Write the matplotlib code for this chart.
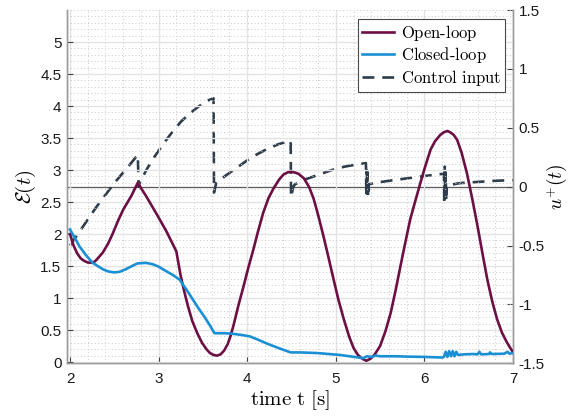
import numpy as np
import matplotlib
matplotlib.use("Agg")
import matplotlib.pyplot as plt
from matplotlib.ticker import MultipleLocator

plt.rcParams['font.family'] = ['Liberation Sans', 'DejaVu Sans']
plt.rcParams['mathtext.fontset'] = 'cm'
plt.rcParams['axes.unicode_minus'] = False

# ---------------- data ----------------
open_t = [2.00, 2.04, 2.08, 2.12, 2.16, 2.20, 2.24, 2.28, 2.32, 2.37, 2.43, 2.48, 2.54,
          2.60, 2.69, 2.765, 2.80, 2.86, 2.97, 3.085, 3.20, 3.25, 3.29, 3.33, 3.38,
          3.44, 3.49, 3.54, 3.58, 3.62, 3.66, 3.70, 3.74, 3.78, 3.81, 3.845, 3.90,
          3.96, 4.01, 4.07, 4.12, 4.18, 4.24, 4.30, 4.36, 4.41, 4.46, 4.50, 4.54,
          4.58, 4.64, 4.70, 4.75, 4.80, 4.86, 4.92, 4.975, 5.03, 5.09, 5.15, 5.20,
          5.25, 5.30, 5.345, 5.39, 5.44, 5.50, 5.56, 5.62, 5.675, 5.73, 5.785, 5.84,
          5.90, 5.955, 6.01, 6.07, 6.12, 6.18, 6.22, 6.26, 6.29, 6.33, 6.37, 6.42,
          6.48, 6.54, 6.60, 6.655, 6.71, 6.765, 6.82, 6.875, 6.93, 7.00]
open_E = [2.00, 1.82, 1.70, 1.62, 1.58, 1.555, 1.55, 1.57, 1.63, 1.71, 1.85, 2.00, 2.20,
          2.38, 2.59, 2.80, 2.72, 2.59, 2.33, 2.05, 1.73, 1.34, 1.10, 0.88, 0.64,
          0.44, 0.30, 0.20, 0.14, 0.11, 0.10, 0.12, 0.18, 0.28, 0.40, 0.57, 0.88,
          1.19, 1.46, 1.76, 2.03, 2.33, 2.56, 2.72, 2.85, 2.93, 2.965, 2.97, 2.96,
          2.94, 2.87, 2.73, 2.55, 2.30, 1.97, 1.62, 1.29, 0.97, 0.67, 0.40, 0.22,
          0.11, 0.05, 0.02, 0.05, 0.12, 0.25, 0.48, 0.77, 1.12, 1.50, 1.87, 2.23,
          2.53, 2.80, 3.06, 3.32, 3.45, 3.55, 3.59, 3.61, 3.59, 3.55, 3.47, 3.27,
          2.95, 2.55, 2.12, 1.70, 1.29, 0.95, 0.67, 0.46, 0.31, 0.15]

closed_t = [2.00, 2.05, 2.105, 2.18, 2.255, 2.37, 2.43, 2.50, 2.56, 2.63, 2.70, 2.76,
            2.85, 2.93, 3.00, 3.085, 3.16, 3.235, 3.31, 3.385, 3.45, 3.52, 3.58, 3.63,
            3.75, 3.845, 3.95, 4.03, 4.12, 4.22, 4.35, 4.49, 4.60, 4.79, 5.05, 5.31,
            5.35, 5.40, 5.45, 5.50, 5.67, 5.80, 6.00, 6.20, 6.22, 6.24, 6.26, 6.28,
            6.30, 6.32, 6.34, 6.36, 6.38, 6.45, 6.55, 6.60, 6.62, 6.64, 6.73, 6.74,
            6.76, 6.90, 6.94, 6.96, 7.00]
closed_E = [2.07, 1.95, 1.81, 1.67, 1.55, 1.45, 1.415, 1.40, 1.41, 1.45, 1.50, 1.54,
            1.55, 1.53, 1.49, 1.42, 1.36, 1.29, 1.14, 0.98, 0.84, 0.70, 0.57, 0.45,
            0.45, 0.44, 0.42, 0.40, 0.35, 0.29, 0.22, 0.15, 0.15, 0.14, 0.11, 0.06,
            0.09, 0.08, 0.10, 0.09, 0.09, 0.085, 0.08, 0.07, 0.08, 0.16, 0.08, 0.17,
            0.09, 0.17, 0.09, 0.16, 0.11, 0.12, 0.125, 0.12, 0.16, 0.12, 0.125, 0.15,
            0.125, 0.13, 0.16, 0.13, 0.14]

ctrl_t = [2.00, 2.10, 2.20, 2.30, 2.40, 2.50, 2.60, 2.70, 2.765, 2.775, 2.78, 2.86,
          2.95, 3.05, 3.15, 3.25, 3.35, 3.45, 3.55, 3.62, 3.625, 3.65, 3.75, 3.90,
          4.05, 4.20, 4.35, 4.49, 4.495, 4.52, 4.54, 4.65, 4.80, 4.95, 5.10, 5.25,
          5.34, 5.345, 5.35, 5.355, 5.36, 5.365, 5.37, 5.43, 5.60, 5.80, 6.00, 6.22,
          6.225, 6.23, 6.235, 6.24, 6.245, 6.25, 6.40, 6.60, 6.80, 7.00]
ctrl_u = [-0.50, -0.39, -0.28, -0.17, -0.07, 0.03, 0.12, 0.21, 0.27, 0.00, 0.02, 0.14,
          0.25, 0.36, 0.46, 0.55, 0.62, 0.68, 0.73, 0.75, -0.05, 0.03, 0.09, 0.17,
          0.25, 0.31, 0.36, 0.39, -0.09, 0.00, 0.02, 0.06, 0.10, 0.14, 0.17, 0.19,
          0.20, -0.08, 0.14, -0.06, 0.12, -0.09, 0.02, 0.03, 0.05, 0.07, 0.09, 0.11,
          -0.14, 0.17, -0.10, 0.12, -0.12, 0.01, 0.03, 0.04, 0.05, 0.055]

labels = ["Open-loop", "Closed-loop", "Control input"]
left_ticks = [0, 0.5, 1, 1.5, 2, 2.5, 3, 3.5, 4, 4.5, 5]
right_ticks = [-1.5, -1, -0.5, 0, 0.5, 1, 1.5]
x_ticks = [2, 3, 4, 5, 6, 7]

# ---------------- styling ----------------
c_open = '#6c0f45'
c_closed = '#1b8fd3'
c_ctrl = '#2d3d4b'
spine_c = '#9a9a9a'

fig = plt.figure(figsize=(5.69, 4.17), dpi=100)
ax = fig.add_axes([67/569, 1 - 363.3/417, (513-67)/569, (363.3-10)/417])
ax2 = ax.twinx()

ax.set_xlim(1.966, 7)
ax.set_ylim(-0.02, 5.5)
ax2.set_ylim(-1.5, 1.5)

ax.set_xticks(x_ticks)
ax.set_yticks(left_ticks)
ax.set_yticklabels([f"{v:g}" for v in left_ticks])
ax2.set_yticks(right_ticks)
ax2.set_yticklabels([f"{v:g}" for v in right_ticks])
ax.xaxis.set_minor_locator(MultipleLocator(0.2))
ax.yaxis.set_minor_locator(MultipleLocator(0.1))

ax.grid(which='major', color='#e3e3e3', lw=1.0, ls='-')
ax.grid(which='minor', color='#c9c9c9', lw=0.7, ls=(0, (1, 2.5)))
ax.set_axisbelow(True)

for a in (ax, ax2):
    for s in a.spines.values():
        s.set_color(spine_c)
        s.set_linewidth(1.0)
    a.spines['top'].set_visible(False)
    a.tick_params(which='both', direction='in', color='#444444', labelsize=11,
                  labelcolor='#1a1a1a')
    a.tick_params(which='minor', length=0)
ax.tick_params(axis='x', pad=6, length=4)
ax.tick_params(axis='y', length=4, pad=4)
ax2.tick_params(axis='y', length=4, pad=4)

# zero line of control input
ax2.axhline(0, color='#5a5a5a', lw=0.9, zorder=1)

l1, = ax.plot(open_t, open_E, color=c_open, lw=1.9, zorder=3)
l2, = ax.plot(closed_t, closed_E, color=c_closed, lw=1.9, zorder=3)
l3, = ax2.plot(ctrl_t, ctrl_u, color=c_ctrl, lw=1.9, ls=(0, (4.5, 3)), zorder=2)

ax.set_zorder(ax2.get_zorder() + 1)
ax.patch.set_visible(False)

ax.set_xlabel(r"$\mathrm{time\ t\ [s]}$", fontsize=15, labelpad=2)
ax.set_ylabel(r"$\mathcal{E}(t)$", fontsize=15, labelpad=2)
ax2.set_ylabel(r"$u^{+}(t)$", fontsize=14, rotation=90, labelpad=0)

leg = ax.legend([l1, l2, l3], [r"$\mathrm{Open\text{-}loop}$", r"$\mathrm{Closed\text{-}loop}$",
                               r"$\mathrm{Control\ input}$"],
                loc='upper right', bbox_to_anchor=(0.99, 0.985), fontsize=12,
                frameon=True, fancybox=False, framealpha=1, edgecolor='#4a4a4a',
                handlelength=1.9, handletextpad=0.4, borderpad=0.25, labelspacing=0.15,
                borderaxespad=0.2)
leg.get_frame().set_linewidth(0.8)

fig.savefig("out.png", dpi=100)
